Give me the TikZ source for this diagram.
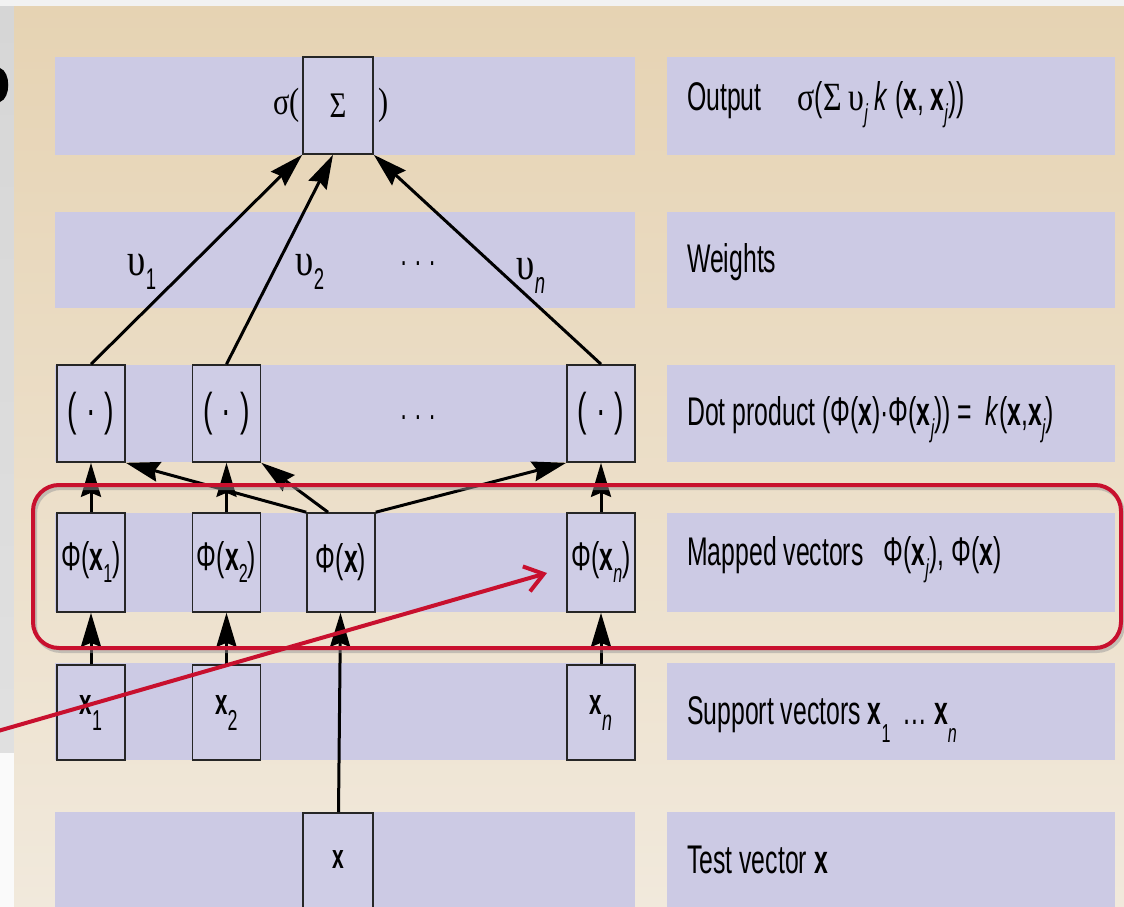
\documentclass[tikz,border=0pt]{standalone}
\usepackage{fontspec}
\usepackage{graphicx}
\setmainfont{Liberation Sans}[FakeStretch=0.62]
\newfontfamily\grk{Liberation Serif}[FakeStretch=0.8]
\usetikzlibrary{arrows.meta}
\definecolor{bandc}{HTML}{CCCAE4}
\definecolor{boxc}{HTML}{CFCDE6}
\definecolor{bgtop}{HTML}{E6D3B3}
\definecolor{bgbot}{HTML}{F1E9DC}
\definecolor{redc}{HTML}{C8102E}
\definecolor{stripc}{HTML}{D6D6D6}
\newcommand\bx{\textbf{x}}
\newcommand\lsub[1]{\raisebox{-0.3em}{\scalebox{0.65}{#1}}}
\tikzset{
  bandbox/.style={fill=bandc,draw=none},
  vbox/.style={draw=black!85,line width=1.6pt,fill=boxc,minimum width=68pt,minimum height=97pt,inner sep=0pt},
  headtip/.tip={Stealth[length=34pt,width=20pt,inset=4pt]},
  conn/.style={line width=3pt,-headtip},
  lab/.style={anchor=west,inner sep=0pt,font=\fontsize{40}{48}\selectfont},
  wlab/.style={inner sep=0pt,font=\fontsize{46}{50}\selectfont\grk},
  redpath/.style={draw=redc,line width=4pt}
}
\begin{document}
\begin{tikzpicture}[x=1pt,y=-1pt]
\useasboundingbox (0,0) rectangle (1124,907);
\clip (0,0) rectangle (1124,907);
% background
\fill[white!95!black] (0,0) rectangle (1124,7);
\shade[top color=stripc,bottom color=white!88!black] (0,7) rectangle (14,753);
\fill[white!98!black] (0,753) rectangle (14,907);
\fill[black] (0,68) .. controls (11,72) and (11,98) .. (0,102) -- cycle;
\shade[top color=bgtop,bottom color=bgbot] (14,7) rectangle (1124,907);
% bands
\foreach \a/\b in {57/155,212/308,365/462,513/612,663/760,812/920}{
  \fill[bandbox] (55,\a) rectangle (635,\b);
  \fill[bandbox] (667,\a) rectangle (1115,\b);
}
% boxes
\node[vbox,minimum width=70pt] (sig) at (338,105.5) {\fontsize{36}{40}\selectfont\grk Σ};
\node[anchor=east,inner sep=2pt,font=\fontsize{38}{40}\selectfont\grk] (sigl) at (sig.west) {σ(};
\node[anchor=west,inner sep=4pt,font=\fontsize{38}{40}\selectfont\grk] (sigr) at (sig.east) {)};
\foreach \n/\x in {d1/91,d2/226.5,dn/601}{
  \node[vbox] (\n) at (\x,413.5) {\fontsize{46}{50}\selectfont(\hspace{9pt}·\hspace{9pt})};
}
\node[vbox,minimum height=99pt] (p1) at (91,562.5) {\fontsize{40}{44}\selectfont Φ(\bx\lsub{1})};
\node[vbox,minimum height=99pt] (p2) at (226.5,562.5) {\fontsize{40}{44}\selectfont Φ(\bx\lsub{2})};
\node[vbox,minimum height=99pt] (px) at (341,562.5) {\fontsize{40}{44}\selectfont Φ(\bx)};
\node[vbox,minimum height=99pt] (pn) at (601,562.5) {\fontsize{40}{44}\selectfont Φ(\bx\lsub{\textit{n}})};
\node[vbox,minimum height=95pt] (s1) at (91,712.5) {\fontsize{36}{40}\selectfont\raisebox{5pt}{\bx}\raisebox{-11pt}{\scalebox{0.8}{1}}};
\node[vbox,minimum height=95pt] (s2) at (226.5,712.5) {\fontsize{36}{40}\selectfont\raisebox{5pt}{\bx}\raisebox{-11pt}{\scalebox{0.8}{2}}};
\node[vbox,minimum height=95pt] (sn) at (601,712.5) {\fontsize{36}{40}\selectfont\raisebox{5pt}{\bx}\raisebox{-11pt}{\scalebox{0.8}{\textit{n}}}};
\node[vbox,minimum width=70pt,minimum height=100pt] (tx) at (338,863) {\fontsize{34}{38}\selectfont\raisebox{6pt}{\bx}};
% dots
\node[inner sep=0pt,font=\fontsize{36}{40}\selectfont] (dotsd) at (418,418) {.\hspace{8pt}.\hspace{8pt}.};
\node[inner sep=0pt,font=\fontsize{36}{40}\selectfont] (dotsw) at (418,264) {.\hspace{8pt}.\hspace{8pt}.};
% weights
\node[wlab] (w1) at (142,272) {υ\lsub{\fontfamily{\rmdefault}\selectfont 1}};
\node[wlab] (w2) at (310,272) {υ\lsub{\fontfamily{\rmdefault}\selectfont 2}};
\node[wlab] (wn) at (531,276) {υ\lsub{\fontfamily{\rmdefault}\selectfont\itshape n}};
% connectors
\draw[conn] (p1) -- (d1);
\draw[conn] (p2) -- (d2);
\draw[conn] (pn) -- (dn);
\draw[conn] (s1) -- (p1);
\draw[conn] (s2) -- (p2);
\draw[conn] (sn) -- (pn);
\draw[conn] (tx) -- (px);
\draw[conn] (px.north west) -- (d1.south east);
\draw[conn] ([xshift=-13pt]px.north) -- (d2.south east);
\draw[conn] (px.north east) -- (dn.south west);
\draw[conn] (d1.north) -- (sig.south west);
\draw[conn] (d2.north) -- ([xshift=-5pt]sig.south);
\draw[conn] (dn.north) -- (sig.south east);
% right labels
\node[lab] (lout) at (687,105) {Output\hspace{36pt}{\grk σ}({\grk Σ}\,{\grk υ}\lsub{\textit{j}}\,\textit{k}\,(\bx,\,\bx\lsub{\textit{j}}))};
\node[lab] (lw) at (687,262) {Weights};
\node[lab] (ld) at (687,420) {Dot product (Φ(\bx)·Φ(\bx\lsub{\textit{j}}))\,=\,\,\textit{k}(\bx,\bx\lsub{\textit{j}})};
\node[lab] (lm) at (687,560) {Mapped vectors\hspace{20pt}Φ(\bx\lsub{\textit{j}}), Φ(\bx)};
\node[lab] (ls) at (687,720) {Support vectors \bx\raisebox{-0.45em}{\scalebox{0.65}{1}}\hspace{12pt}…\,\bx\raisebox{-0.45em}{\scalebox{0.65}{\textit{n}}}};
\node[lab] (lt) at (687,860) {Test vector \bx};
% red highlight
\draw[black!40,line width=4pt,rounded corners=26pt,opacity=0.5] (35,488) rectangle (1123,651);
\draw[redpath,rounded corners=26pt] (33,485) rectangle (1121,648);
\coordinate (rs) at (-2,731);
\coordinate (re) at (547,573);
\draw[redpath,-{Straight Barb[length=18pt,width=26pt]}] (rs) -- (re);
\end{tikzpicture}
\end{document}
